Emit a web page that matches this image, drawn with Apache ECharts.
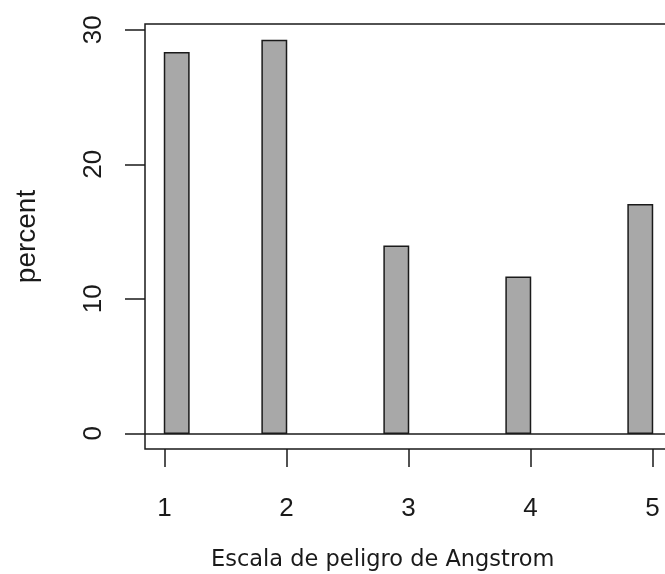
<!DOCTYPE html>
<html>
<head>
<meta charset="utf-8">
<script src="https://cdn.jsdelivr.net/npm/echarts@6/dist/echarts.min.js"></script>
<style>
  html, body { margin: 0; padding: 0; background: #ffffff; }
  #chart { width: 665px; height: 574px; }
</style>
</head>
<body>
<div id="chart"></div>
<script>
// Angstrom danger scale: share of observations per class (percent)
const binStart = [1, 1.8, 2.8, 3.8, 4.8];
const binEnd = [1.2, 2, 3, 4, 5];
const percentValues = [28.3, 29.2, 13.9, 11.6, 17.0];
const xTickValues = [1, 2, 3, 4, 5];
const yTickValues = [0, 10, 20, 30];

const barData = binStart.map((s, i) => [s, binEnd[i], percentValues[i]]);

const chart = echarts.init(document.getElementById('chart'), null, { renderer: 'canvas' });

const axisFont = 'Liberation Sans, Arial, sans-serif';
const ink = '#1a1a1a';

chart.setOption({
  animation: false,
  backgroundColor: '#ffffff',
  grid: {
    left: 145, top: 24, width: 527, height: 425,
    outerBoundsMode: 'none',
    containLabel: false,
    show: true, borderColor: ink, borderWidth: 1.5, backgroundColor: 'transparent'
  },
  xAxis: {
    type: 'value',
    min: 0.84, max: 5.16,
    position: 'bottom',
    axisLine: { show: false, onZero: false },
    splitLine: { show: false },
    axisTick: {
      show: true, inside: false, length: 18,
      customValues: xTickValues,
      lineStyle: { color: ink, width: 1.5 }
    },
    axisLabel: {
      customValues: xTickValues,
      margin: 47,
      fontFamily: axisFont, fontSize: 26, color: ink
    }
  },
  yAxis: {
    type: 'value',
    min: -1.17, max: 30.43,
    name: 'percent',
    nameLocation: 'middle',
    nameRotate: 90,
    nameGap: 104,
    nameTextStyle: { fontFamily: axisFont, fontSize: 28, color: ink },
    axisLine: { show: false, onZero: false },
    splitLine: { show: false },
    axisTick: {
      show: true, inside: false, length: 20,
      customValues: yTickValues,
      lineStyle: { color: ink, width: 1.5 }
    },
    axisLabel: {
      customValues: yTickValues,
      rotate: 90,
      margin: 38,
      fontFamily: axisFont, fontSize: 26, color: ink
    }
  },
  graphic: [{
    type: 'text',
    left: 211, top: 549,
    style: {
      text: 'Escala de peligro de Angstrom',
      font: '22.5px "DejaVu Sans", sans-serif',
      fill: ink
    }
  }],
  series: [{
    type: 'custom',
    data: barData,
    encode: { x: [0, 1], y: 2 },
    renderItem: function (params, api) {
      const p0 = api.coord([api.value(0), 0]);
      const p1 = api.coord([api.value(1), api.value(2)]);
      return {
        type: 'rect',
        shape: { x: p0[0], y: p1[1], width: p1[0] - p0[0], height: p0[1] - p1[1] },
        style: { fill: '#a8a8a8', stroke: ink, lineWidth: 1.5 }
      };
    },
    markLine: {
      silent: true,
      symbol: 'none',
      label: { show: false },
      lineStyle: { color: ink, width: 1.5, type: 'solid' },
      data: [{ yAxis: 0 }]
    },
    z: 2
  }]
});
</script>
</body>
</html>
